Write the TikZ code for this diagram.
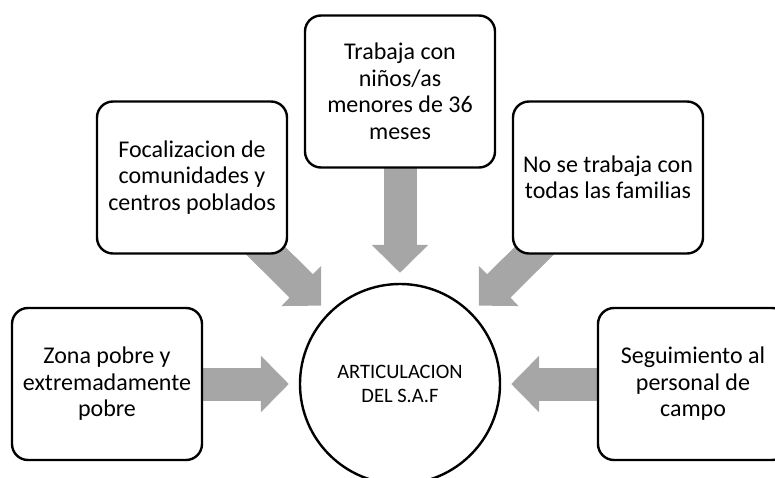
\documentclass[tikz,border=0pt]{standalone}
\usepackage{fontspec}
\setmainfont{Carlito}
\usetikzlibrary{arrows.meta,backgrounds}
\definecolor{flowgray}{HTML}{A6A6A6}
\tikzset{
  box/.style={draw,line width=2.4bp,rounded corners=16bp,fill=white,
    minimum width=190bp,minimum height=152bp,align=center,
    font=\fontsize{24bp}{26.5bp}\selectfont},
  hub/.style={draw,circle,line width=2.4bp,fill=white,minimum size=200bp,
    align=center,font=\fontsize{20.5bp}{24bp}\selectfont},
  flow/.style={flowgray,line width=33bp,-{Triangle[width=55bp,length=28bp]},
    shorten >=10bp},
}
\begin{document}
\begin{tikzpicture}[x=1bp,y=-1bp,line join=bevel,]
\clip (0,0) rectangle (775,478);
%%
\node (node_saf) at (400,384) [hub] {ARTICULACION\\DEL S.A.F};
  \node (node_zona) at (107,384) [box] {Zona pobre y\\extremadamente\\pobre};
  \node (node_foco) at (192,177.5) [box] {Focalizacion de\\comunidades y\\centros poblados};
  \node (node_trab) at (400,91.5) [box] {Trabaja con\\niños/as\\menores de 36\\meses};
  \node (node_nose) at (608,177.5) [box] {No se trabaja con\\todas las familias};
  \node (node_segui) at (693,384) [box] {Seguimiento al\\personal de\\campo};
%
\begin{pgfonlayer}{background}
  \draw [flow] (node_zona.center) -- (node_saf);
  \draw [flow] (node_foco.center) -- (node_saf);
  \draw [flow] (node_trab.center) -- (node_saf);
  \draw [flow] (node_nose.center) -- (node_saf);
  \draw [flow] (node_segui.center) -- (node_saf);
\end{pgfonlayer}
%
\end{tikzpicture}
\end{document}
